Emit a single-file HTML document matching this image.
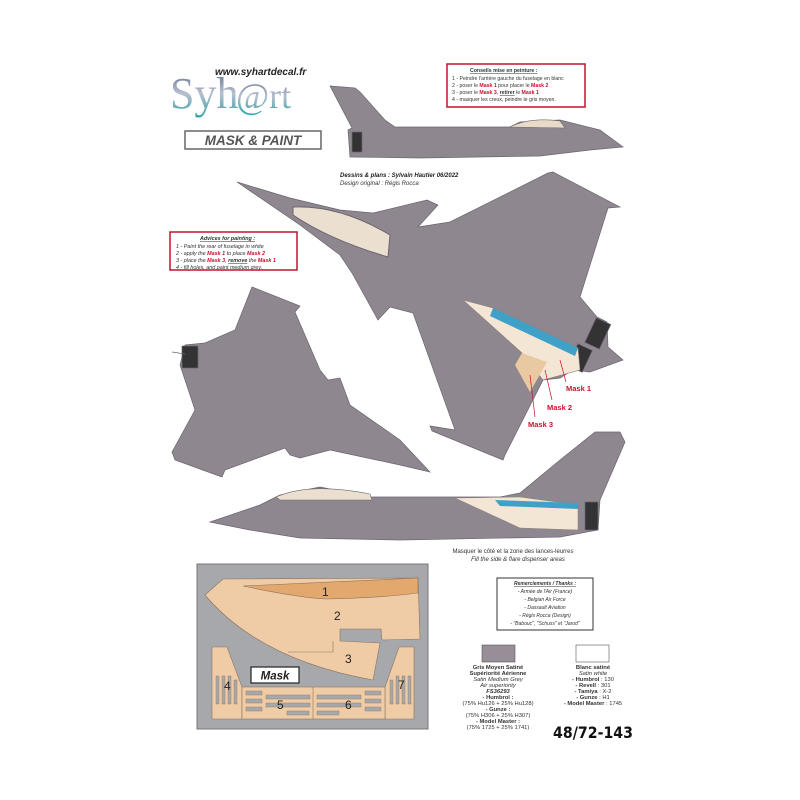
<!DOCTYPE html>
<html><head><meta charset="utf-8"><style>
body{margin:0;width:800px;height:800px;background:#fff;overflow:hidden;font-family:"Liberation Sans",sans-serif}
svg{position:absolute;left:0;top:0}
.r{fill:#c8102e;font-weight:bold}
</style></head><body>
<svg width="800" height="800" viewBox="0 0 800 800" xmlns="http://www.w3.org/2000/svg" font-family="Liberation Sans, sans-serif">
<defs><linearGradient id="lg" x1="0" y1="0" x2="0" y2="1"><stop offset="0" stop-color="#5a6a8a"/><stop offset="0.5" stop-color="#b8c0d0"/><stop offset="1" stop-color="#30a0a8"/></linearGradient></defs>
<!-- logo -->
<text x="170" y="108" font-family="Liberation Serif, serif" font-size="44" fill="url(#lg)">Syh</text>
<text x="236" y="108" font-family="Liberation Serif, serif" font-size="36" fill="url(#lg)">@rt</text>
<text x="215" y="75" font-size="10" font-weight="bold" font-style="italic" fill="#222">www.syhartdecal.fr</text>
<rect x="185" y="131" width="136" height="18" fill="#fff" stroke="#666" stroke-width="1.5"/>
<text x="253" y="145" font-size="13.5" font-weight="bold" font-style="italic" fill="#555" text-anchor="middle">MASK &amp; PAINT</text>

<!-- top side view -->
<g fill="#8e8790" stroke="#6c6570" stroke-width="0.7">
<polygon points="330,86 355,88 360,92 385,120 395,127 510,127 520,122 560,120 600,130 623,147 590,150 540,156 420,158 350,157 348,130 352,128"/>
<rect x="352" y="132" width="10" height="20" fill="#333"/>
</g>
<path d="M510,127 Q530,117 560,121 L565,128 Z" fill="#e8dcc8" stroke="#6c6570" stroke-width="0.6"/>
<rect x="447" y="64" width="138" height="43" fill="#fff" stroke="#c8102e" stroke-width="1.5"/>
<g font-size="5.2" fill="#333">
<text x="470" y="72" font-weight="bold" text-decoration="underline">Conseils mise en peinture :</text>
<text x="452" y="80">1 - Peindre l'arrière gauche du fuselage en blanc</text>
<text x="452" y="87">2 - poser le <tspan class="r">Mask 1</tspan> pour placer le <tspan class="r">Mask 2</tspan></text>
<text x="452" y="94">3 - poser le <tspan class="r">Mask 3</tspan>, <tspan font-weight="bold" text-decoration="underline">retirer</tspan> le <tspan class="r">Mask 1</tspan></text>
<text x="452" y="101">4 - masquer les creux, peindre le gris moyen.</text>
</g>
<text x="340" y="177" font-size="6" font-weight="bold" font-style="italic" fill="#222">Dessins &amp; plans : Sylvain Hautier 06/2022</text>
<text x="340" y="185" font-size="6" font-style="italic" fill="#333">Design original : Régis Rocca</text>

<!-- mid plane (top view) -->
<g fill="#8e8790" stroke="#6c6570" stroke-width="0.7">
<polygon points="237,182 290,198 340,210 373,213 427,200 438,205 418,227 450,222 548,173 553,172 620,207 608,208 580,297 597,317 607,322 608,347 623,360 590,372 573,370 560,378 543,380 505,455 503,460 432,431 430,426 455,430 413,313 390,307 378,320 352,273 340,255 300,225"/>
<rect x="590" y="320" width="16" height="27" fill="#333" transform="rotate(25 598 333)"/>
<rect x="572" y="346" width="16" height="24" fill="#333" transform="rotate(25 580 358)"/>
</g>
<path d="M293,207 Q340,205 390,235 L388,257 Q330,240 293,215 Z" fill="#ebe0cf" stroke="#6c6570"/>
<polygon points="463,300 493,308 578,348 580,370 543,380 522,353" fill="#f3e6d5" stroke="#8a7f7a" stroke-width="0.6"/>
<polygon points="493,308 578,348 575,356 490,316" fill="#3fa0c8"/>
<polygon points="522,353 547,362 530,392 515,365" fill="#e8c9a2"/>

<!-- left plane (bottom view) -->
<g fill="#8e8790" stroke="#6c6570" stroke-width="0.7">
<polygon points="252,287 300,306 295,312 320,370 328,380 340,378 350,405 400,440 430,472 400,465 330,450 300,458 290,455 285,448 225,470 222,477 175,460 172,452 195,410 185,380 180,365 185,345 205,343 235,330"/>
<rect x="182" y="346" width="16" height="22" fill="#333"/>
<line x1="172" y1="352" x2="185" y2="354"/>
</g>

<rect x="170" y="232" width="127" height="38" fill="#fff" stroke="#c8102e" stroke-width="1.5"/>
<g font-size="5.4" fill="#333" font-style="italic">
<text x="200" y="240" font-weight="bold" text-decoration="underline">Advices for painting :</text>
<text x="176" y="248">1 - Paint the rear of fuselage in white</text>
<text x="176" y="255">2 - apply the <tspan class="r">Mask 1</tspan> to place <tspan class="r">Mask 2</tspan></text>
<text x="176" y="262">3 - place the <tspan class="r">Mask 3</tspan>, <tspan font-weight="bold" text-decoration="underline">remove</tspan> the <tspan class="r">Mask 1</tspan></text>
<text x="176" y="269">4 - fill holes, and paint medium grey.</text>
</g>
<g stroke="#c8102e" stroke-width="0.7"><line x1="560" y1="360" x2="566" y2="382"/><line x1="545" y1="370" x2="552" y2="400"/><line x1="530" y1="375" x2="535" y2="417"/></g>
<g font-size="7.5"><text x="566" y="391" class="r">Mask 1</text><text x="547" y="410" class="r">Mask 2</text><text x="528" y="427" class="r">Mask 3</text></g>

<!-- bottom side view -->
<g fill="#8e8790" stroke="#6c6570" stroke-width="0.7">
<polygon points="210,522 260,505 280,495 320,487 370,497 500,497 520,493 560,460 595,432 620,432 625,442 600,500 598,530 560,537 400,540 300,538 250,530"/>
<rect x="585" y="502" width="13" height="28" fill="#333"/>
</g>
<path d="M276,497 Q310,482 370,494 L372,500 L280,500 Z" fill="#ebe0cf" stroke="#6c6570" stroke-width="0.6"/>
<polygon points="455,498 520,497 578,505 578,530 520,528" fill="#f3e6d5" stroke="#8a7f7a" stroke-width="0.5"/>
<polygon points="495,500 578,503 578,509 500,506" fill="#3fa0c8"/>
<text x="513" y="553" font-size="6" fill="#333" text-anchor="middle">Masquer le côté et la zone des lances-leurres</text>
<text x="518" y="561" font-size="6" font-style="italic" fill="#333" text-anchor="middle">Fill the side &amp; flare dispenser areas</text>

<!-- mask sheet -->
<rect x="197" y="564" width="231" height="165" fill="#a7a8ab" stroke="#777"/>
<path d="M205,595 L223,579 L418,578 L420,639 L382,640 L381,629 L340,629 L340,641 L380,643 L373,680 Q260,660 205,595 Z" fill="#f0cca6" stroke="#8a7360" stroke-width="0.6"/>
<path d="M243,586 Q300,598 327,599 Q380,598 418,593 L418,578 Z" fill="#e3a86e" stroke="#8a7360" stroke-width="0.6"/>
<path d="M333,641 L333,652 L288,652" fill="none" stroke="#8a7360" stroke-width="0.6"/>
<polygon points="212,647 227,647 242,687 242,719 212,719" fill="#f0cca6" stroke="#8a7360" stroke-width="0.6"/>
<polygon points="414,647 399,647 385,687 385,719 414,719" fill="#f0cca6" stroke="#8a7360" stroke-width="0.6"/>
<rect x="242" y="687" width="143" height="32" fill="#f0cca6" stroke="#8a7360" stroke-width="0.6"/>
<line x1="313" y1="687" x2="313" y2="719" stroke="#8a7360" stroke-width="0.6"/>
<g fill="#a7a8ab" stroke="#8a7360" stroke-width="0.4">
<rect x="216" y="676" width="3" height="28"/><rect x="222" y="676" width="3" height="28"/><rect x="228" y="676" width="3" height="28"/><rect x="234" y="680" width="3" height="24"/>
<rect x="390" y="680" width="3" height="24"/><rect x="396" y="676" width="3" height="28"/><rect x="402" y="676" width="3" height="28"/><rect x="408" y="676" width="3" height="28"/>
<rect x="246" y="691" width="16" height="4"/><rect x="246" y="699" width="16" height="4"/><rect x="246" y="707" width="16" height="4"/><rect x="266" y="695" width="44" height="4"/><rect x="266" y="703" width="44" height="4"/><rect x="287" y="711" width="22" height="4"/>
<rect x="317" y="695" width="44" height="4"/><rect x="317" y="703" width="44" height="4"/><rect x="317" y="711" width="22" height="4"/><rect x="365" y="691" width="16" height="4"/><rect x="365" y="699" width="16" height="4"/><rect x="365" y="707" width="16" height="4"/>
</g>
<g font-size="12" fill="#222"><text x="322" y="596">1</text><text x="334" y="620">2</text><text x="345" y="663">3</text><text x="224" y="690">4</text><text x="277" y="709">5</text><text x="345" y="709">6</text><text x="398" y="689">7</text></g>
<rect x="251" y="667" width="48" height="16" fill="#fff" stroke="#222" stroke-width="1.2"/>
<text x="275" y="679.5" font-size="11.5" font-weight="bold" font-style="italic" text-anchor="middle" fill="#222">Mask</text>

<!-- thanks -->
<rect x="497" y="578" width="96" height="52" fill="#fff" stroke="#333" stroke-width="1"/>
<g font-size="5" fill="#333" font-style="italic" text-anchor="middle">
<text x="545" y="585" font-weight="bold" text-decoration="underline">Remerciements / Thanks :</text>
<text x="545" y="593">- Armée de l'Air (France)</text><text x="545" y="601">- Belgian Air Force</text><text x="545" y="609">- Dassault Aviation</text><text x="545" y="617">- Régis Rocca (Design)</text><text x="545" y="625">- "Babouc", "Schuss" et "Jarod"</text>
</g>
<rect x="482" y="645" width="33" height="17" fill="#978e98" stroke="#555" stroke-width="0.6"/>
<rect x="576" y="645" width="33" height="17" fill="#fff" stroke="#555" stroke-width="0.6"/>
<g font-size="5.8" fill="#333" text-anchor="middle">
<text x="498" y="669" font-weight="bold">Gris Moyen Satiné</text><text x="498" y="675" font-weight="bold">Supériorité Aérienne</text><text x="498" y="681" font-style="italic">Satin Medium Grey</text><text x="498" y="687" font-style="italic">Air superiority</text><text x="498" y="693" font-weight="bold" font-style="italic">FS36293</text><text x="498" y="699" font-weight="bold">- Humbrol :</text><text x="498" y="705">(75% Hu126 + 25% Hu128)</text><text x="498" y="711" font-weight="bold">- Gunze :</text><text x="498" y="717">(75% H306 + 25% H307)</text><text x="498" y="723" font-weight="bold">- Model Master :</text><text x="498" y="729">(75% 1725 + 25% 1741)</text>
<text x="593" y="669" font-weight="bold">Blanc satiné</text><text x="593" y="675" font-style="italic">Satin white</text><text x="593" y="681"><tspan font-weight="bold">- Humbrol</tspan> : 130</text><text x="593" y="687"><tspan font-weight="bold">- Revell</tspan> : 301</text><text x="593" y="693"><tspan font-weight="bold">- Tamiya</tspan> : X-2</text><text x="593" y="699"><tspan font-weight="bold">- Gunze</tspan> : H1</text><text x="593" y="705"><tspan font-weight="bold">- Model Master</tspan> : 1745</text>
</g>
<text x="553" y="738" font-family="DejaVu Sans, sans-serif" font-size="16" font-weight="bold" fill="#111" textLength="80" lengthAdjust="spacingAndGlyphs">48/72-143</text>
</svg>
</body></html>
